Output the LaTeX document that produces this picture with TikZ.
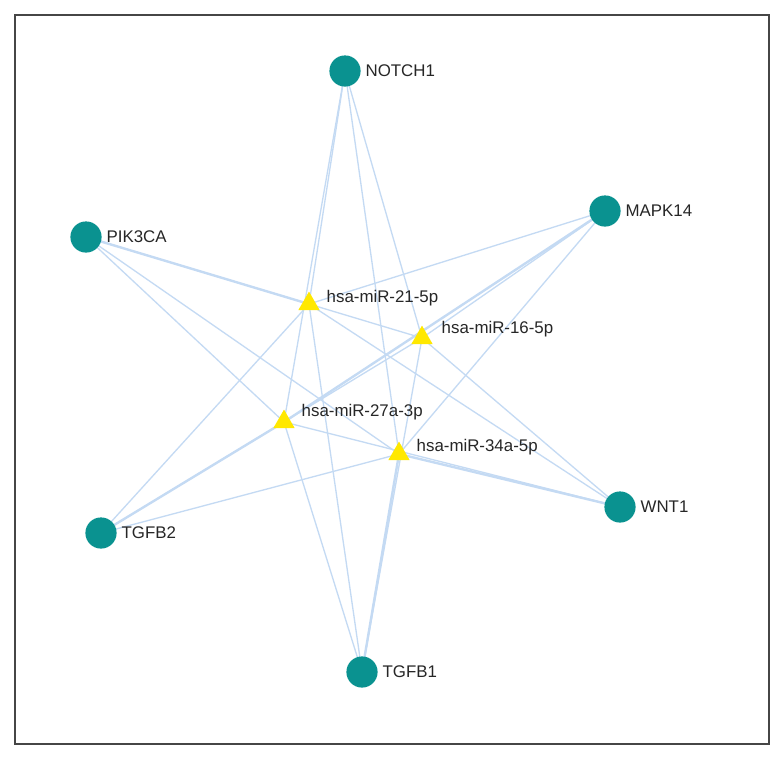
\documentclass[tikz,border=0pt]{standalone}
\usepackage{fontspec}
\setmainfont{Liberation Sans}
\usetikzlibrary{positioning}
\usetikzlibrary{shapes.geometric}
\usetikzlibrary{backgrounds}
\usetikzlibrary{calc}

\definecolor{genecol}{RGB}{10,146,144}
\definecolor{mircol}{RGB}{255,232,0}
\definecolor{linkcol}{RGB}{196,218,243}
\definecolor{framecol}{RGB}{70,70,70}

\tikzset{
	gene/.style={circle, fill=genecol, draw=none, minimum size=0.78cm, inner sep=0pt},
	mirna/.style={regular polygon, regular polygon sides=3, fill=mircol, draw=none, minimum size=0.62cm, inner sep=0pt},
	lbl/.style={font=\fontsize{12}{14}\selectfont, text=black!85, inner sep=1pt},
	link/.style={draw=linkcol, line width=0.95pt},
	biglink/.style={draw=linkcol, line width=1.7pt},
}

\begin{document}
\begin{tikzpicture}[x=0.025cm, y=-0.025cm]
%     \draw[help lines](0,0) grid (784,758);

	\useasboundingbox (0,0) rectangle (784,758);
	\draw[framecol, line width=0.8pt] (15,15) rectangle (769,744);

	%%%% genes %%%%

	\node[gene] (notch) at (345,71) {};
	\node[lbl, anchor=west] (notchL) at ($(notch.east)+(3,0)$) {NOTCH1};

	\node[gene] (mapk) at (605,211) {};
	\node[lbl, anchor=west] (mapkL) at ($(mapk.east)+(3,0)$) {MAPK14};

	\node[gene] (pik) at (86,237) {};
	\node[lbl, anchor=west] (pikL) at ($(pik.east)+(3,0)$) {PIK3CA};

	\node[gene] (wnt) at (620,507) {};
	\node[lbl, anchor=west] (wntL) at ($(wnt.east)+(3,0)$) {WNT1};

	\node[gene] (tgfbb) at (101,533) {};
	\node[lbl, anchor=west] (tgfbbL) at ($(tgfbb.east)+(3,0)$) {TGFB2};

	\node[gene] (tgfba) at (362,672) {};
	\node[lbl, anchor=west] (tgfbaL) at ($(tgfba.east)+(3,0)$) {TGFB1};

	%%%% miRNAs %%%%

	\node[mirna] (m21) at (309,304) {};
	\node[lbl, anchor=west] (m21L) at ($(m21.center)+(16,-6)$) {hsa-miR-21-5p};

	\node[mirna] (m16) at (422,338) {};
	\node[lbl, anchor=west] (m16L) at ($(m16.center)+(18,-9)$) {hsa-miR-16-5p};

	\node[mirna] (m27) at (284,422) {};
	\node[lbl, anchor=west] (m27L) at ($(m27.center)+(16,-10)$) {hsa-miR-27a-3p};

	\node[mirna] (m34) at (399,454) {};
	\node[lbl, anchor=west] (m34L) at ($(m34.center)+(16,-7)$) {hsa-miR-34a-5p};

	%%%% links %%%%

	\begin{scope}[on background layer]
	\path[link] (notch.center) edge (m21.center);
	\path[link] (notch.center) edge (m16.center);
	\path[link] (notch.center) edge (m27.center);
	\path[link] (notch.center) edge (m34.center);

	\path[biglink] (pik.center) edge (m21.center);
	\path[link] (pik.center) edge (m16.center);
	\path[link] (pik.center) edge (m27.center);
	\path[link] (pik.center) edge (m34.center);

	\path[link] (mapk.center) edge (m21.center);
	\path[link] (mapk.center) edge (m16.center);
	\path[biglink] (mapk.center) edge (m27.center);
	\path[link] (mapk.center) edge (m34.center);

	\path[link] (wnt.center) edge (m21.center);
	\path[link] (wnt.center) edge (m16.center);
	\path[link] (wnt.center) edge (m27.center);
	\path[biglink] (wnt.center) edge (m34.center);

	\path[link] (tgfbb.center) edge (m21.center);
	\path[link] (tgfbb.center) edge (m16.center);
	\path[biglink] (tgfbb.center) edge (m27.center);
	\path[link] (tgfbb.center) edge (m34.center);

	\path[link] (tgfba.center) edge (m21.center);
	\path[link] (tgfba.center) edge (m16.center);
	\path[link] (tgfba.center) edge (m27.center);
	\path[biglink] (tgfba.center) edge (m34.center);
	\end{scope}

\end{tikzpicture}
\end{document}
